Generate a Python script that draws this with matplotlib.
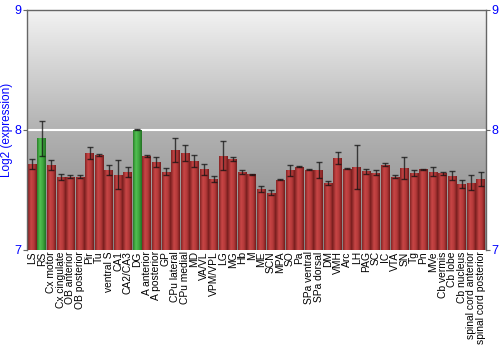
import numpy as np
import matplotlib
matplotlib.use("Agg")
import matplotlib.pyplot as plt
from matplotlib.colors import LinearSegmentedColormap

regions = ["LS", "RS", "Cx motor", "Cx cingulate", "OB anterior", "OB posterior",
           "Pir", "Tu", "ventral S", "CA1", "CA2/CA3", "DG", "A anterior",
           "A posterior", "GP", "CPu lateral", "CPu medial", "MD", "VA/VL",
           "VPM/VPL", "LG", "MG", "Hb", "M", "ME", "SCN", "MPA", "SO", "Pa",
           "SPa ventral", "SPa dorsal", "DM", "VMH", "Arc", "LH", "PAG", "SC",
           "IC", "VTA", "SN", "Tg", "Pn", "MVe", "Cb vermis", "Cb lobe",
           "Cb nucleus", "spinal cord anterior", "spinal cord posterior"]
values = [7.714, 7.93, 7.708, 7.61, 7.61, 7.61,
          7.81, 7.79, 7.667, 7.628, 7.65, 8.0, 7.783,
          7.733, 7.65, 7.833, 7.81, 7.742, 7.672,
          7.592, 7.786, 7.756, 7.65, 7.631, 7.506, 7.475, 7.586, 7.664, 7.694,
          7.667, 7.667, 7.556, 7.764, 7.675, 7.689, 7.656, 7.642,
          7.711, 7.611, 7.686, 7.642, 7.672, 7.653, 7.639, 7.619,
          7.55, 7.561, 7.592]
errors = [0.043, 0.146, 0.04, 0.025, 0.01, 0.01,
          0.05, 0.005, 0.04, 0.117, 0.04, 0.005, 0.01,
          0.045, 0.03, 0.1, 0.067, 0.05, 0.045,
          0.027, 0.124, 0.015, 0.018, 0.005, 0.024, 0.02, 0.005, 0.045, 0.005,
          0.005, 0.064, 0.018, 0.048, 0.005, 0.183, 0.022, 0.02,
          0.01, 0.014, 0.092, 0.025, 0.005, 0.04, 0.014, 0.035,
          0.035, 0.06, 0.06]
highlight = ["RS", "DG"]

red_cm = LinearSegmentedColormap.from_list("r", ["#842424", "#c84646", "#b53a3a", "#741c1c"])
green_cm = LinearSegmentedColormap.from_list("g", ["#2a7f2a", "#52c052", "#3ea63e", "#237023"])
bg_cm = LinearSegmentedColormap.from_list("bg", ["#848484", "#b2b2b2", "#f3f3f3"])

fig = plt.figure(figsize=(5, 3.5), dpi=100)
ax = fig.add_axes([0.054, 0.286, 0.918, 0.686])

x = np.arange(len(regions))
ax.set_xlim(-0.55, len(regions) - 0.45)
ax.set_ylim(7, 9)

# background gradient
grad_v = np.linspace(0, 1, 256).reshape(-1, 1)
ax.imshow(grad_v, extent=[-0.55, len(regions) - 0.45, 7, 9], origin="lower",
          cmap=bg_cm, aspect="auto", zorder=0)

ax.axhline(8, color="white", lw=1.5, zorder=1)

bars = ax.bar(x, np.array(values) - 7, bottom=7, width=0.9, color="none",
              edgecolor="none", zorder=2)
grad_h = np.linspace(0, 1, 64).reshape(1, -1)
for name, b in zip(regions, bars):
    cm = green_cm if name in highlight else red_cm
    im = ax.imshow(grad_h, extent=[b.get_x(), b.get_x() + b.get_width(), 7, 7 + b.get_height()],
                   cmap=cm, aspect="auto", zorder=2)
    im.set_clip_path(b)

ax.errorbar(x, values, yerr=errors, fmt="none", ecolor="#111111", elinewidth=1,
            capsize=2.5, capthick=1, alpha=0.75, zorder=3)

ax.set_xticks(x)
ax.set_xticklabels(regions, rotation=90, fontsize=7.4, family="Liberation Sans")
ax.tick_params(axis="x", length=0, pad=1)

ax.set_yticks([7, 8, 9])
ax.tick_params(axis="y", colors="#666666", labelcolor="blue", labelsize=9,
               length=3, pad=1, right=True, labelright=True)
for lab in ax.get_yticklabels():
    lab.set_family("Liberation Sans")
ax.set_ylabel("Log2 (expression)", color="blue", fontsize=8.5,
              family="Liberation Sans", labelpad=1)

for s in ["left", "right", "top"]:
    ax.spines[s].set_color("#666666")
    ax.spines[s].set_linewidth(1)
ax.spines["bottom"].set_visible(False)

fig.savefig("out.png", dpi=100)
